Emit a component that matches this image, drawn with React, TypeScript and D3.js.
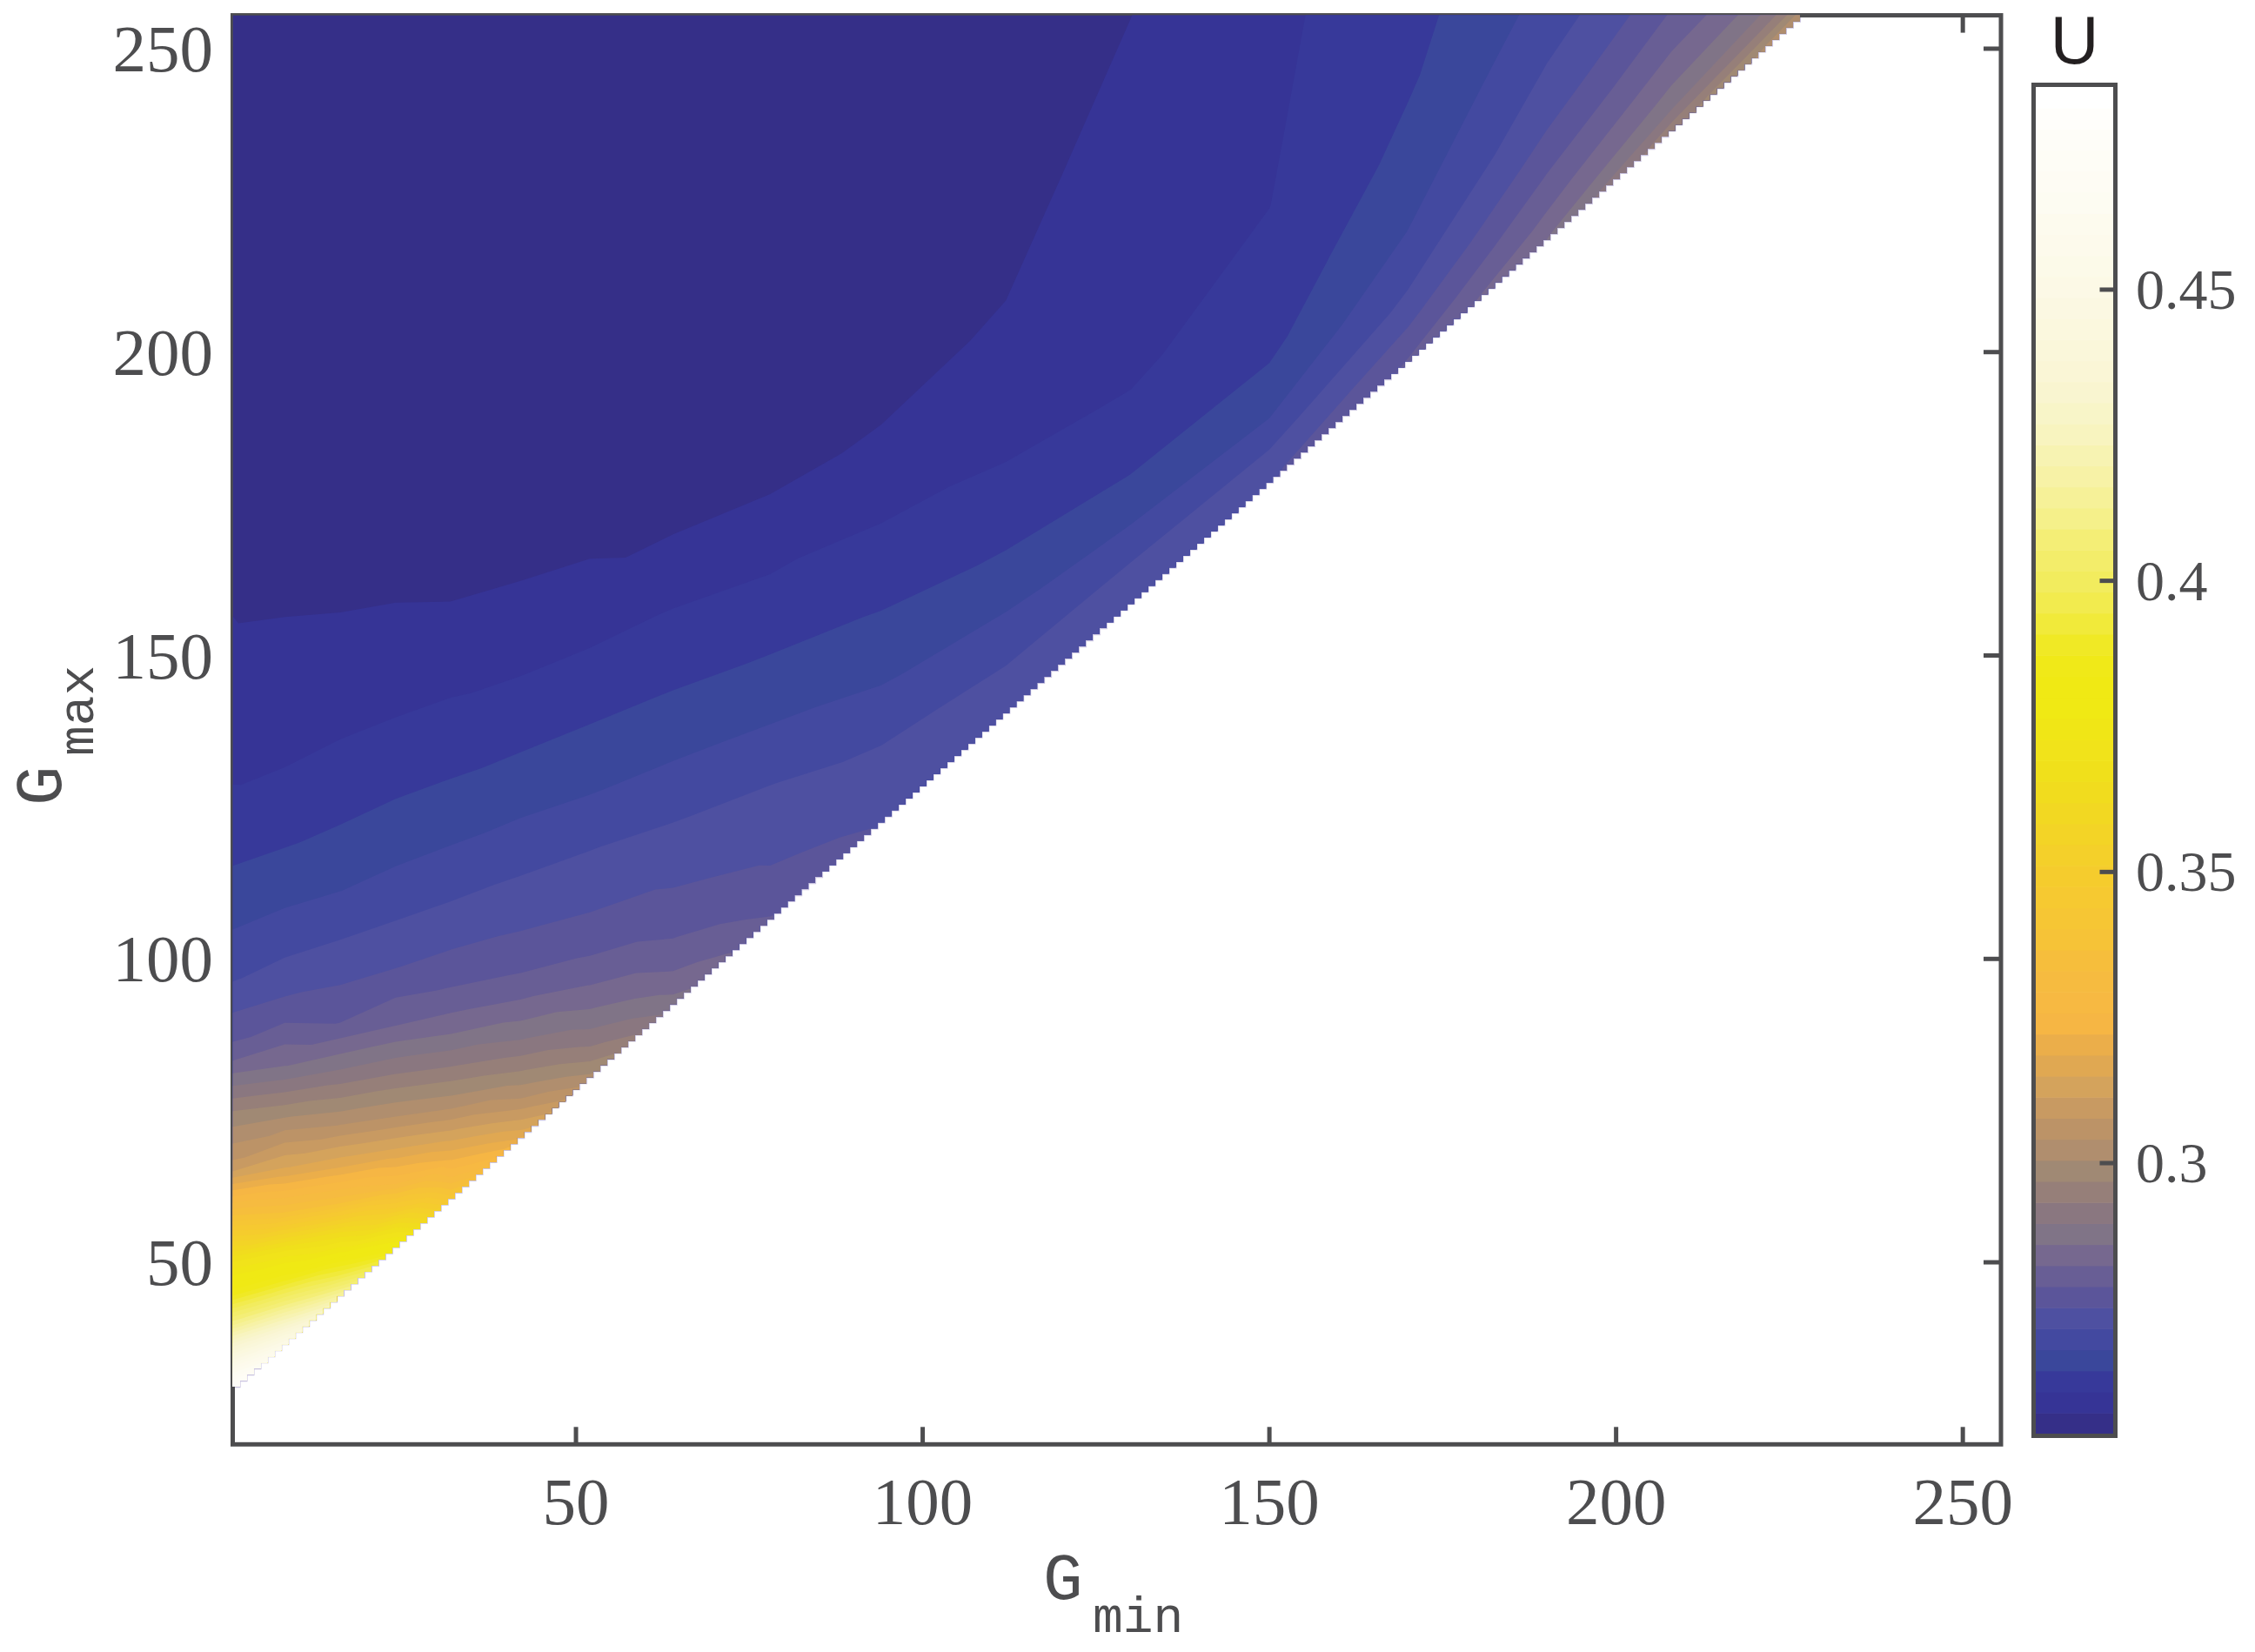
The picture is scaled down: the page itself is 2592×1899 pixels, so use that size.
import { useMemo } from "react";
import * as d3 from "d3";

const WIDTH = 2592;
const HEIGHT = 1899;

// Sample grid: Gmin positions and the height above the
// edge of the defined region (gap = Gmax - Gmin - MIN_GAP).
const MIN_GAP = 29;
const gminNodes = [0.5, 8, 16, 24, 32, 42, 52, 64, 78, 94, 112, 130, 150, 170, 190, 208, 227];
const gapNodes = [-2, 0, 3, 6, 10, 15, 21, 28, 36, 45, 55, 66, 80, 98, 125, 160, 226];

// U at each gap node, one row per Gmin node
const uByGmin = [
  [0.483, 0.4776, 0.4584, 0.4378, 0.4132, 0.3872, 0.3677, 0.3373, 0.3095, 0.2976, 0.2802, 0.2719, 0.266, 0.2609, 0.2572, 0.2557, 0.2542],
  [0.4631, 0.4487, 0.427, 0.4085, 0.3869, 0.3688, 0.3373, 0.316, 0.3019, 0.2864, 0.2762, 0.27, 0.2647, 0.2598, 0.2564, 0.2555, 0.2542],
  [0.427, 0.4125, 0.3937, 0.3793, 0.3619, 0.3352, 0.3175, 0.3034, 0.2907, 0.2781, 0.273, 0.268, 0.2634, 0.2591, 0.2553, 0.2549, 0.2542],
  [0.3908, 0.3782, 0.3641, 0.3471, 0.329, 0.3164, 0.3041, 0.2933, 0.2824, 0.2754, 0.2708, 0.2665, 0.2624, 0.258, 0.2549, 0.2546, 0.2542],
  [0.3547, 0.3402, 0.3294, 0.3218, 0.3128, 0.3027, 0.2936, 0.2842, 0.2774, 0.273, 0.2689, 0.2651, 0.2612, 0.2571, 0.2553, 0.2548, 0.2542],
  [0.3258, 0.3167, 0.3102, 0.3041, 0.2976, 0.2904, 0.2835, 0.2777, 0.2741, 0.2707, 0.2669, 0.2634, 0.2595, 0.2557, 0.2551, 0.2548, 0.2542],
  [0.3048, 0.3005, 0.2954, 0.2913, 0.2867, 0.2821, 0.2777, 0.2746, 0.2719, 0.2683, 0.2651, 0.262, 0.2578, 0.2553, 0.2549, 0.2546, 0.2542],
  [0.2896, 0.2871, 0.2842, 0.2815, 0.279, 0.2763, 0.2745, 0.2721, 0.2692, 0.2661, 0.2633, 0.2604, 0.2562, 0.2557, 0.2551, 0.2546, 0.2542],
  [0.2799, 0.2788, 0.277, 0.2759, 0.2747, 0.2734, 0.2718, 0.2692, 0.2665, 0.2638, 0.2612, 0.2575, 0.256, 0.2555, 0.2549, 0.2546, 0.2542],
  [0.2752, 0.2748, 0.2741, 0.2734, 0.2723, 0.2706, 0.2683, 0.2661, 0.2639, 0.2616, 0.2593, 0.2569, 0.256, 0.2555, 0.2549, 0.2546, 0.2542],
  [0.2737, 0.2734, 0.2727, 0.272, 0.2707, 0.2684, 0.2661, 0.2638, 0.2616, 0.26, 0.2586, 0.2572, 0.2564, 0.2557, 0.2549, 0.2546, 0.2542],
  [0.2741, 0.2737, 0.2727, 0.2718, 0.2692, 0.2668, 0.2643, 0.262, 0.2605, 0.26, 0.2595, 0.2588, 0.258, 0.257, 0.256, 0.2553, 0.2546],
  [0.2752, 0.2748, 0.273, 0.2708, 0.268, 0.2656, 0.2638, 0.2627, 0.2615, 0.2607, 0.2604, 0.2601, 0.2598, 0.2593, 0.2586, 0.2575, 0.2564],
  [0.2799, 0.2788, 0.2766, 0.2746, 0.2721, 0.2701, 0.268, 0.2665, 0.2651, 0.264, 0.2635, 0.2631, 0.2625, 0.2618, 0.2607, 0.2593, 0.2571],
  [0.2871, 0.2857, 0.2831, 0.2813, 0.279, 0.2763, 0.2737, 0.2717, 0.2698, 0.268, 0.2665, 0.2651, 0.264, 0.2629, 0.2615, 0.26, 0.2578],
  [0.2969, 0.2947, 0.2896, 0.2867, 0.2839, 0.281, 0.2781, 0.2752, 0.2727, 0.2708, 0.2694, 0.268, 0.2665, 0.2651, 0.2633, 0.2615, 0.2589],
  [0.3048, 0.3027, 0.2951, 0.2907, 0.2867, 0.2831, 0.2799, 0.2774, 0.2752, 0.2734, 0.2716, 0.2701, 0.2687, 0.2669, 0.2651, 0.2629, 0.26],
];

const xTicks = [50, 100, 150, 200, 250];
const yTicks = [50, 100, 150, 200, 250];
const colorbarTicks = [0.3, 0.35, 0.4, 0.45];
const U_MIN = 0.2535;
const U_MAX = 0.4848;

// 64-step colormap, bottom to top of the colorbar
const bandColors = [
  "#352f88", "#363496", "#37399a", "#3a479b", "#4349a0", "#4e50a1", "#5b559a", "#685e95",
  "#76688f", "#807487", "#8a7780", "#967f79", "#a08974", "#b08e6e", "#bc9367", "#c89a62",
  "#d4a35c", "#e0a852", "#ebae4a", "#f6b644", "#f7b942", "#f6bb40", "#f6be3c", "#f6c337",
  "#f6c634", "#f6c931", "#f5cc2d", "#f4d02a", "#f3d426", "#f2d822", "#f1dc1e", "#f0e01b",
  "#f1e31a", "#f0e616", "#f0e914", "#f0e914", "#f0e918", "#f0e925", "#f1ea3a", "#f2eb4e",
  "#f2ec5e", "#f3ed6a", "#f4ee76", "#f5f08a", "#f6f198", "#f7f2a6", "#f7f3b2", "#f8f4bf",
  "#f8f5c8", "#f9f5d0", "#faf6d6", "#faf7da", "#fbf8de", "#fbf8e2", "#fcf9e6", "#fcfae9",
  "#fdfaec", "#fdfbee", "#fdfcf2", "#fefcf4", "#fefdf6", "#fefdf8", "#fffefb", "#ffffff",
];

const AXIS = "#4d4d4f";
const plot = { left: 267.5, right: 2300, top: 17.6, bottom: 1660.3 };
const cbar = { left: 2337.5, right: 2431.5, top: 97.5, bottom: 1650.5 };

export default function App() {
  const x = d3.scaleLinear().domain([0.5, 255.5]).range([plot.left, plot.right]);
  const y = d3.scaleLinear().domain([20, 255.5]).range([plot.bottom, plot.top]);
  const cb = d3.scaleLinear().domain([U_MIN, U_MAX]).range([1648.3, 100]);
  const bandStep = (U_MAX - U_MIN) / bandColors.length;

  const { bands, regionPath, edgePath } = useMemo(() => {
    const n = gminNodes.length;
    const m = gapNodes.length;
    const values = new Array(n * m);
    for (let j = 0; j < m; j++) {
      for (let i = 0; i < n; i++) values[j * n + i] = uByGmin[i][j];
    }
    const thresholds = d3.range(1, bandColors.length).map((b) => U_MIN + b * bandStep);
    const contours = d3.contours().size([n, m]).thresholds(thresholds)(values);

    // d3.contours puts sample i at coordinate i + 0.5
    const idxX = d3.scaleLinear().domain(d3.range(n)).range(gminNodes).clamp(true);
    const idxG = d3.scaleLinear().domain(d3.range(m)).range(gapNodes).clamp(true);
    const projection = d3.geoTransform({
      point(this: any, cx: number, cy: number) {
        const g = idxX(cx - 0.5);
        this.stream.point(x(g), y(g + idxG(cy - 0.5) + MIN_GAP));
      },
    });
    const geo = d3.geoPath(projection);

    // pixel staircase of the defined region (Gmax - Gmin >= MIN_GAP)
    const cols = d3.range(1, 256).filter((g) => g + MIN_GAP <= 255);
    const steps: [number, number][] = [[0.5, cols[0] + MIN_GAP - 0.5]];
    cols.forEach((g) => {
      steps.push([g + 0.5, g + MIN_GAP - 0.5]);
      steps.push([g + 0.5, g + MIN_GAP + 0.5]);
    });
    const line = d3
      .line<[number, number]>()
      .x((d) => x(d[0]))
      .y((d) => y(d[1]));

    return {
      bands: contours.map((c, i) => ({ d: geo(c) ?? "", color: bandColors[i + 1] })),
      regionPath: line([[0.5, 255.5], ...steps]) + "Z",
      edgePath: line(steps) ?? "",
    };
  }, []);

  return (
    <svg
      width={WIDTH}
      height={HEIGHT}
      viewBox={`0 0 ${WIDTH} ${HEIGHT}`}
      style={{ position: "absolute", left: 0, top: 0, display: "block", background: "#fff" }}
    >
      <defs>
        <clipPath id="region">
          <path d={regionPath} />
        </clipPath>
      </defs>

      {/* axes box and inward ticks (drawn under the image) */}
      <path d={edgePath} fill="none" stroke="#c9c3e0" strokeWidth={2.2} />
      <rect
        x={plot.left}
        y={plot.top}
        width={plot.right - plot.left}
        height={plot.bottom - plot.top}
        fill="none"
        stroke={AXIS}
        strokeWidth={5}
      />
      {xTicks.map((t) => (
        <g key={`xt${t}`} stroke={AXIS} strokeWidth={5}>
          <line x1={x(t)} x2={x(t)} y1={plot.bottom} y2={plot.bottom - 20} />
          <line x1={x(t)} x2={x(t)} y1={plot.top} y2={plot.top + 20} />
        </g>
      ))}
      {yTicks.map((t) => (
        <g key={`yt${t}`} stroke={AXIS} strokeWidth={5}>
          <line x1={plot.left} x2={plot.left + 20} y1={y(t)} y2={y(t)} />
          <line x1={plot.right} x2={plot.right - 20} y1={y(t)} y2={y(t)} />
        </g>
      ))}

      {/* heat map */}
      <g clipPath="url(#region)">
        <path d={regionPath} fill={bandColors[0]} />
        {bands.map((b, i) => (
          <path key={i} d={b.d} fill={b.color} />
        ))}
      </g>

      {/* tick labels */}
      <g fontFamily="'Liberation Serif', 'Times New Roman', serif" fontSize={77} fill={AXIS}>
        {xTicks.map((t) => (
          <text key={`xl${t}`} x={x(t)} y={1752} textAnchor="middle">
            {t}
          </text>
        ))}
        {yTicks.map((t) => (
          <text key={`yl${t}`} x={245} y={y(t) + 26} textAnchor="end">
            {t}
          </text>
        ))}
      </g>

      {/* axis labels */}
      <g fontFamily="'Liberation Mono', 'Courier New', monospace" fill={AXIS}>
        <text x={1199} y={1838} fontSize={76}>G</text>
        <text x={1256} y={1876} fontSize={58}>min</text>
        <text transform="translate(70,926) rotate(-90)" fontSize={76}>G</text>
        <text transform="translate(107,869) rotate(-90)" fontSize={58}>max</text>
      </g>

      {/* colorbar */}
      <g>
        {bandColors.map((c, b) => {
          const top = cb(U_MIN + (b + 1) * bandStep);
          const bottom = cb(U_MIN + b * bandStep);
          return (
            <rect
              key={b}
              x={cbar.left}
              y={top}
              width={cbar.right - cbar.left}
              height={bottom - top + 0.6}
              fill={c}
            />
          );
        })}
        <rect
          x={cbar.left}
          y={cbar.top}
          width={cbar.right - cbar.left}
          height={cbar.bottom - cbar.top}
          fill="none"
          stroke={AXIS}
          strokeWidth={5}
        />
        {colorbarTicks.map((t) => (
          <g key={`ct${t}`}>
            <line x1={cbar.right} x2={cbar.right - 18} y1={cb(t)} y2={cb(t)} stroke={AXIS} strokeWidth={5} />
            <text
              x={2455}
              y={cb(t) + 22}
              fontFamily="'Liberation Serif', 'Times New Roman', serif"
              fontSize={66}
              fill={AXIS}
            >
              {t}
            </text>
          </g>
        ))}
        <text
          x={(cbar.left + cbar.right) / 2}
          y={73}
          textAnchor="middle"
          fontFamily="'Liberation Sans', Arial, sans-serif"
          fontSize={77}
          fill="#231f20"
        >
          U
        </text>
      </g>
    </svg>
  );
}
